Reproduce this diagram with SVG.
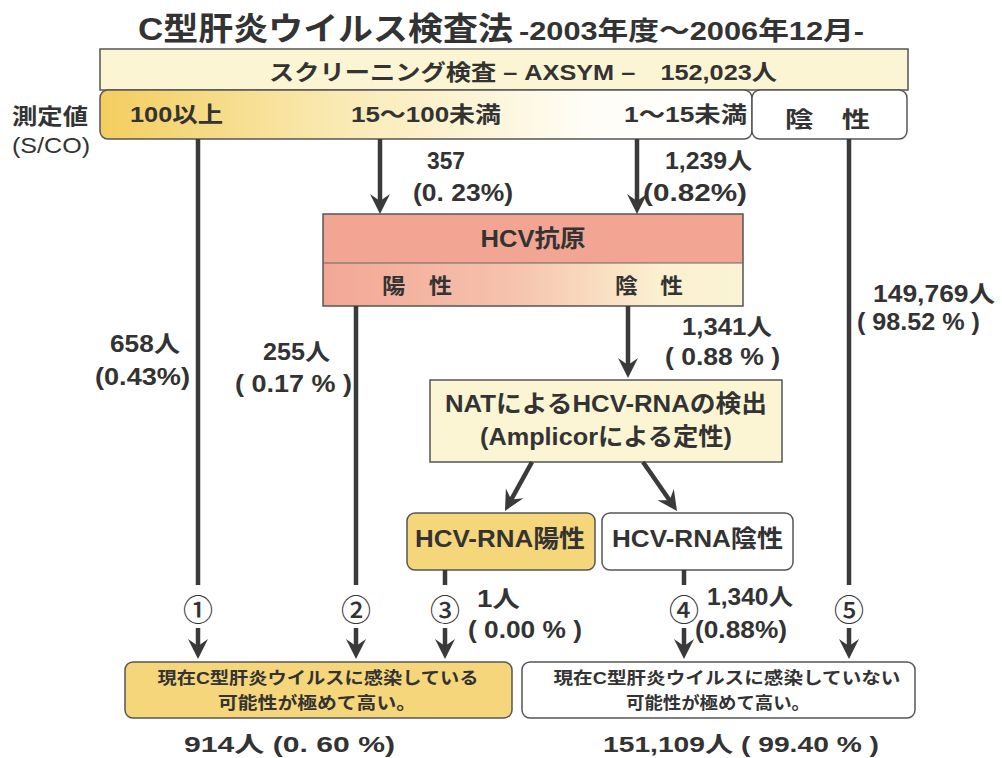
<svg xmlns="http://www.w3.org/2000/svg" width="1002" height="758" viewBox="0 0 1002 758">
<style>
text{font-family:"Liberation Sans","Noto Sans CJK JP",sans-serif;fill:#333;font-weight:bold;}
.reg{font-weight:normal;}
.box{stroke:#555;stroke-width:1.5;}
.ln{stroke:#3a3a3a;stroke-width:4.5;fill:none;}
.ar{marker-end:url(#ah);}
.num{font-family:"Noto Sans CJK JP",sans-serif;font-weight:500;font-size:30px;text-anchor:middle;}
.lbl{font-size:23px;}
.mid{text-anchor:middle;}
</style>
<defs>
<marker id="ah" markerUnits="userSpaceOnUse" viewBox="-12 -12 24 24" refX="0" refY="0" markerWidth="24" markerHeight="24" orient="auto">
<path d="M10,0 L-10,-10 L-3,0 L-10,10 Z" fill="#3a3a3a"/>
</marker>
<linearGradient id="gRow" x1="0" y1="0" x2="1" y2="0">
<stop offset="0" stop-color="#f3cd5e"/>
<stop offset="0.35" stop-color="#f9e9b0"/>
<stop offset="0.75" stop-color="#fffdf6"/>
<stop offset="1" stop-color="#ffffff"/>
</linearGradient>
<linearGradient id="gHcv" x1="0" y1="0" x2="1" y2="0">
<stop offset="0" stop-color="#f2a795"/>
<stop offset="0.45" stop-color="#f6c2ad"/>
<stop offset="0.8" stop-color="#fbf0cf"/>
<stop offset="1" stop-color="#fbf3d6"/>
</linearGradient>
</defs>
<rect width="1002" height="758" fill="#ffffff"/>

<g id="title">
<text x="138" y="40" font-size="32" textLength="375" lengthAdjust="spacingAndGlyphs">C型肝炎ウイルス検査法</text>
<text x="519" y="40" font-size="26" textLength="345" lengthAdjust="spacingAndGlyphs">-2003年度～2006年12月-</text>
</g>

<g id="screening">
<rect class="box" x="100" y="49" width="808" height="41" fill="#fbf5d3"/>
<text x="269" y="80" font-size="22" textLength="508" lengthAdjust="spacingAndGlyphs">スクリーニング検査 – AXSYM –　152,023人</text>
</g>

<g id="measure-label">
<text x="12" y="124" font-size="22" textLength="76" lengthAdjust="spacingAndGlyphs">測定値</text>
<text class="reg" x="12" y="153" font-size="22" textLength="78" lengthAdjust="spacingAndGlyphs">(S/CO)</text>
</g>

<g id="range-row">
<rect class="box" x="100" y="90" width="652" height="49" rx="8" fill="url(#gRow)"/>
<text x="130" y="122" font-size="22" textLength="93" lengthAdjust="spacingAndGlyphs">100以上</text>
<text x="351" y="122" font-size="22" textLength="150" lengthAdjust="spacingAndGlyphs">15～100未満</text>
<text x="624" y="122" font-size="22" textLength="123" lengthAdjust="spacingAndGlyphs">1～15未満</text>
</g>

<g id="negative">
<rect class="box" x="752" y="90" width="155" height="49" rx="8" fill="#ffffff"/>
<text x="785" y="127" font-size="22" textLength="85" lengthAdjust="spacingAndGlyphs">陰　性</text>
</g>

<g id="hcv-antigen">
<rect x="323" y="214" width="420" height="49" fill="#f2a592"/>
<rect x="323" y="263" width="420" height="43" fill="url(#gHcv)"/>
<rect class="box" x="323" y="214" width="420" height="92" fill="none"/>
<line x1="323" y1="263" x2="743" y2="263" stroke="#666" stroke-width="1.2"/>
<text class="mid" x="533" y="247" font-size="24" textLength="105" lengthAdjust="spacingAndGlyphs" fill="#4a2e26">HCV抗原</text>
<text x="382" y="293" font-size="21" textLength="70" lengthAdjust="spacingAndGlyphs">陽　性</text>
<text x="615" y="293" font-size="21" textLength="68" lengthAdjust="spacingAndGlyphs">陰　性</text>
</g>

<g id="nat">
<rect class="box" x="430" y="380" width="352" height="82" fill="#fbf5d3"/>
<text x="445" y="412" font-size="24" textLength="322" lengthAdjust="spacingAndGlyphs">NATによるHCV-RNAの検出</text>
<text x="480" y="445" font-size="24" textLength="252" lengthAdjust="spacingAndGlyphs">(Amplicorによる定性)</text>
</g>

<g id="rna-positive">
<rect class="box" x="407" y="513" width="188" height="57" rx="8" fill="#f6d67a"/>
<text x="415" y="547" font-size="24" textLength="170" lengthAdjust="spacingAndGlyphs">HCV-RNA陽性</text>
</g>

<g id="rna-negative">
<rect class="box" x="602" y="513" width="191" height="57" rx="8" fill="#ffffff"/>
<text x="612" y="547" font-size="24" textLength="171" lengthAdjust="spacingAndGlyphs">HCV-RNA陰性</text>
</g>

<g id="result-infected">
<rect class="box" x="125" y="662" width="387" height="56" rx="8" fill="#f6d67a"/>
<text class="mid" x="318" y="684" font-size="17" textLength="321" lengthAdjust="spacingAndGlyphs">現在C型肝炎ウイルスに感染している</text>
<text class="mid" x="317" y="709" font-size="17" textLength="198" lengthAdjust="spacingAndGlyphs">可能性が極めて高い。</text>
<text x="184" y="752" font-size="22" textLength="211" lengthAdjust="spacingAndGlyphs">914人 (0. 60 %)</text>
</g>

<g id="result-not-infected">
<rect class="box" x="522" y="662" width="393" height="56" rx="8" fill="#ffffff"/>
<text class="mid" x="727" y="684" font-size="17" textLength="347" lengthAdjust="spacingAndGlyphs">現在C型肝炎ウイルスに感染していない</text>
<text class="mid" x="718" y="709" font-size="17" textLength="184" lengthAdjust="spacingAndGlyphs">可能性が極めて高い。</text>
<text x="603" y="752" font-size="22" textLength="276" lengthAdjust="spacingAndGlyphs">151,109人 ( 99.40 % )</text>
</g>

<g id="connectors">
<line class="ln" x1="198" y1="139" x2="198" y2="585"/>
<line class="ln ar" x1="198" y1="628" x2="198" y2="649"/>
<line class="ln ar" x1="380" y1="139" x2="380" y2="204"/>
<line class="ln ar" x1="637" y1="139" x2="637" y2="204"/>
<line class="ln" x1="849" y1="139" x2="849" y2="585"/>
<line class="ln ar" x1="849" y1="628" x2="849" y2="649"/>
<line class="ln" x1="356" y1="306" x2="356" y2="585"/>
<line class="ln ar" x1="356" y1="628" x2="356" y2="649"/>
<line class="ln ar" x1="628" y1="306" x2="628" y2="368"/>
<line class="ln ar" x1="532" y1="462" x2="509.8" y2="502.2"/>
<line class="ln ar" x1="643" y1="462" x2="671.3" y2="502.8"/>
<line class="ln" x1="445" y1="570" x2="445" y2="585"/>
<line class="ln ar" x1="445" y1="628" x2="445" y2="649"/>
<line class="ln" x1="684" y1="570" x2="684" y2="585"/>
<line class="ln ar" x1="684" y1="628" x2="684" y2="649"/>
</g>

<g id="connector-labels">
<text class="lbl" x="427" y="169" textLength="38" lengthAdjust="spacingAndGlyphs">357</text>
<text class="lbl" x="413" y="201" textLength="100" lengthAdjust="spacingAndGlyphs">(0. 23%)</text>
<text class="lbl" x="665" y="169" textLength="87" lengthAdjust="spacingAndGlyphs">1,239人</text>
<text class="lbl" x="643" y="201" textLength="104" lengthAdjust="spacingAndGlyphs">(0.82%)</text>
<text class="lbl" x="110" y="352" textLength="70" lengthAdjust="spacingAndGlyphs">658人</text>
<text class="lbl" x="95" y="385" textLength="95" lengthAdjust="spacingAndGlyphs">(0.43%)</text>
<text class="lbl" x="263" y="360" textLength="67" lengthAdjust="spacingAndGlyphs">255人</text>
<text class="lbl" x="235" y="392" textLength="117" lengthAdjust="spacingAndGlyphs">( 0.17 % )</text>
<text class="lbl" x="682" y="335" textLength="90" lengthAdjust="spacingAndGlyphs">1,341人</text>
<text class="lbl" x="665" y="365" textLength="115" lengthAdjust="spacingAndGlyphs">( 0.88 % )</text>
<text class="lbl" x="873" y="302" textLength="122" lengthAdjust="spacingAndGlyphs">149,769人</text>
<text class="lbl" x="857" y="330" textLength="123" lengthAdjust="spacingAndGlyphs">( 98.52 % )</text>
<text class="lbl" x="477" y="607" textLength="43" lengthAdjust="spacingAndGlyphs">1人</text>
<text class="lbl" x="468" y="638" textLength="114" lengthAdjust="spacingAndGlyphs">( 0.00 % )</text>
<text class="lbl" x="707" y="605" textLength="86" lengthAdjust="spacingAndGlyphs">1,340人</text>
<text class="lbl" x="695" y="638" textLength="92" lengthAdjust="spacingAndGlyphs">(0.88%)</text>
<text class="num" x="198" y="621">①</text>
<text class="num" x="356" y="621">②</text>
<text class="num" x="445" y="621">③</text>
<text class="num" x="684" y="621">④</text>
<text class="num" x="849" y="621">⑤</text>
</g>
</svg>
